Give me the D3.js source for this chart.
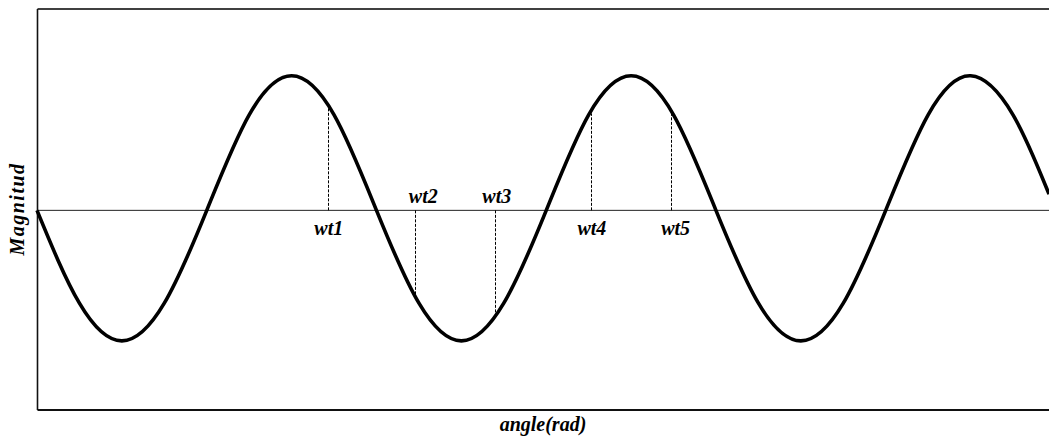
<!DOCTYPE html>
<html>
<head>
<meta charset="utf-8">
<script src="https://cdn.jsdelivr.net/npm/d3@7"></script>
<style>
  html, body { margin: 0; padding: 0; background: #fff; }
  svg { display: block; }
  text { font-family: "Liberation Serif", "Times New Roman", serif; font-weight: bold; font-style: italic; fill: #000; }
</style>
</head>
<body>
<svg id="chart" width="1049" height="439"></svg>
<script>
// ---- data ----
const angles = [0, 0.785, 1.571, 2.356, 3.142, 3.927, 4.712, 5.498, 6.283, 7.069, 7.854, 8.639,
                9.425, 10.21, 10.996, 11.781, 12.566, 13.352, 14.137, 14.923, 15.708, 16.493,
                17.279, 18.064, 18.73];
const magnitudes = [0, -0.69, -0.97, -0.69, 0, 0.71, 1, 0.71, 0, -0.69, -0.97, -0.69,
                    0, 0.71, 1, 0.71, 0, -0.69, -0.97, -0.69, 0, 0.71, 1, 0.71, 0.12];
const markerLabels = ["wt1", "wt2", "wt3", "wt4", "wt5"];
const markerAngles = [5.38, 7.0, 8.475, 10.246, 11.732];
const markerValues = [0.78, -0.63, -0.79, 0.72, 0.74];
const labelAngles  = [5.4, 7.15, 8.51, 10.27, 11.82];
const labelSide    = ["below", "above", "above", "below", "below"];
const xDomain = [0, 18.73];
const yDomain = [-1.48, 1.5];
const xTitle = "angle(rad)";
const yTitle = "Magnitud";

// ---- layout ----
const svg = d3.select("#chart");
const mLeft = 37, mRight = 1049, mTop = 8.5, mBottom = 409.5;

const x = d3.scaleLinear().domain(xDomain).range([mLeft, mRight]);
const y = d3.scaleLinear().domain(yDomain).range([mBottom, mTop]);

// frame (axes without ticks)
svg.append("g").attr("transform", `translate(0,${mTop})`)
  .call(d3.axisTop(x).tickValues([]).tickSizeOuter(0))
  .call(g => g.select(".domain").attr("stroke", "#000").attr("stroke-width", 1.6));
svg.append("g").attr("transform", `translate(0,${mBottom})`)
  .call(d3.axisBottom(x).tickValues([]).tickSizeOuter(0))
  .call(g => g.select(".domain").attr("stroke", "#111").attr("stroke-width", 1.8));
svg.append("g").attr("transform", `translate(${mLeft},0)`)
  .call(d3.axisLeft(y).tickValues([]).tickSizeOuter(0))
  .call(g => g.select(".domain").attr("stroke", "#111").attr("stroke-width", 1.6));

// zero line
svg.append("line")
  .attr("x1", x(xDomain[0])).attr("x2", x(xDomain[1]))
  .attr("y1", y(0)).attr("y2", y(0))
  .attr("stroke", "#222").attr("stroke-width", 1);

// dashed markers
svg.append("g").selectAll("line")
  .data(markerAngles)
  .join("line")
  .attr("x1", d => Math.round(x(d)) + 0.5).attr("x2", d => Math.round(x(d)) + 0.5)
  .attr("y1", y(0))
  .attr("y2", (d, i) => y(markerValues[i]))
  .attr("stroke", "#000").attr("stroke-width", 1)
  .attr("stroke-dasharray", "3,1.5");

// sine curve
const pts = angles.map((a, i) => [a, magnitudes[i]]);
svg.append("path")
  .datum(pts)
  .attr("fill", "none")
  .attr("stroke", "#000")
  .attr("stroke-width", 3.6)
  .attr("d", d3.line().x(d => x(d[0])).y(d => y(d[1])).curve(d3.curveNatural));

// marker labels
svg.append("g").selectAll("text")
  .data(markerLabels)
  .join("text")
  .attr("x", (d, i) => x(labelAngles[i]))
  .attr("y", (d, i) => labelSide[i] === "above" ? y(0) - 7 : y(0) + 25)
  .attr("text-anchor", "middle")
  .attr("font-size", 20)
  .text(d => d);

// axis titles
svg.append("text")
  .attr("x", (mLeft + mRight) / 2).attr("y", 431)
  .attr("text-anchor", "middle")
  .attr("font-size", 20)
  .text(xTitle);
svg.append("text")
  .attr("transform", `translate(24,${(mTop + mBottom) / 2}) rotate(-90)`)
  .attr("text-anchor", "middle")
  .attr("font-size", 20)
  .attr("letter-spacing", 1.5)
  .text(yTitle);
</script>
</body>
</html>
